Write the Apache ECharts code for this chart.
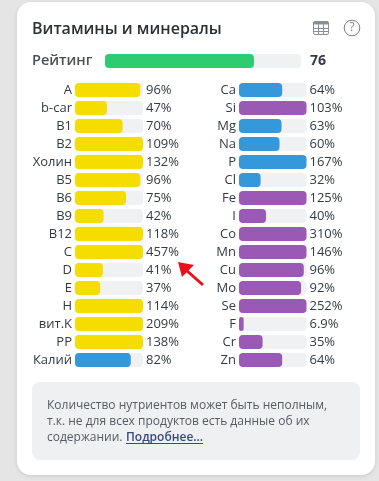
<!DOCTYPE html>
<html>
<head>
<meta charset="utf-8">
<style>
  html, body { margin: 0; padding: 0; background: #e5e5e5; }
  #chart { width: 379px; height: 481px; }
</style>
<script src="https://cdn.jsdelivr.net/npm/echarts@6/dist/echarts.min.js"></script>
</head>
<body>
<div id="chart"></div>
<script>
// данные
var ratingName = 'Рейтинг';
var ratingValue = 76;

var leftNames = ['A', 'b-car', 'B1', 'B2', 'Холин', 'B5', 'B6', 'B9', 'B12', 'C', 'D', 'E', 'H', 'вит.K', 'PP', 'Калий'];
var leftValues = [96, 47, 70, 109, 132, 96, 75, 42, 118, 457, 41, 37, 114, 209, 138, 82];

var rightNames = ['Ca', 'Si', 'Mg', 'Na', 'P', 'Cl', 'Fe', 'I', 'Co', 'Mn', 'Cu', 'Mo', 'Se', 'F', 'Cr', 'Zn'];
var rightValues = [64, 103, 63, 60, 167, 32, 125, 40, 310, 146, 96, 92, 252, 6.9, 35, 64];

var macroNames = ['Калий', 'Ca', 'Mg', 'Na', 'P', 'Cl'];
var vitaminNames = leftNames.filter(function (n) { return macroNames.indexOf(n) < 0; });

var FONT = '"Open Sans", "Noto Sans", sans-serif';
var TRACK = '#eff1f3';
var TEXT = '#333a42';

function barColor(name) {
  if (macroNames.indexOf(name) >= 0) return '#3498db';
  if (vitaminNames.indexOf(name) >= 0) return '#f5dd00';
  return '#9b59b6';
}

function percent(v) {
  return v + '%';
}

var grids = [];
var xAxes = [];
var yAxes = [];
var series = [];

// одна группа полос: своя сетка, подписи слева и значения справа
function addPanel(box, names, values, tags, labelStyle, tagStyle, colorOf) {
  var i = grids.length;
  var baseLabel = { interval: 0, fontFamily: FONT, fontSize: 13, color: TEXT, margin: 3, padding: [2, 0, 0, 0] };
  grids.push(box);
  xAxes.push({ gridIndex: i, type: 'value', min: 0, max: 100, show: false });
  yAxes.push({
    gridIndex: i, type: 'category', inverse: true, position: 'left', data: names,
    axisLine: { show: false }, axisTick: { show: false },
    axisLabel: Object.assign({}, baseLabel, labelStyle)
  });
  yAxes.push({
    gridIndex: i, type: 'category', inverse: true, position: 'right', data: tags,
    axisLine: { show: false }, axisTick: { show: false },
    axisLabel: Object.assign({}, baseLabel, tagStyle)
  });
  series.push({
    type: 'bar',
    xAxisIndex: i,
    yAxisIndex: yAxes.length - 2,
    barWidth: 14,
    silent: true,
    showBackground: true,
    backgroundStyle: { color: TRACK, borderRadius: 4 },
    itemStyle: { borderRadius: 4 },
    data: values.map(function (v, k) {
      return { value: Math.min(v, 100), itemStyle: { color: colorOf(names[k]) } };
    })
  });
}

addPanel({ left: 105, top: 54, width: 196, height: 14 }, [ratingName], [ratingValue], [String(ratingValue)],
  { fontSize: 14.5, fontWeight: 600, color: '#4a5058', align: 'left', margin: 73 },
  { fontSize: 14, fontWeight: 700, margin: 9 },
  function () { return '#2ecc71'; });
addPanel({ left: 75, top: 81, width: 68, height: 288 }, leftNames, leftValues, leftValues.map(percent), {}, {}, barColor);
addPanel({ left: 239, top: 81, width: 67.5, height: 288 }, rightNames, rightValues, rightValues.map(percent), {}, {}, barColor);

var noteStyle = { fontFamily: FONT, fontSize: 12, fill: '#555b63' };

function noteLine(x, y, text, extra) {
  return { type: 'text', x: x, y: y, style: Object.assign({ text: text, textVerticalAlign: 'middle' }, noteStyle, extra) };
}

var iconLine = { stroke: '#8a8f96', lineWidth: 1 };

var graphicEls = [
  // карточка
  {
    type: 'rect', z: -10,
    shape: { x: 17, y: 2, width: 358, height: 473, r: 14 },
    style: { fill: '#fff', shadowBlur: 4, shadowColor: 'rgba(0,0,0,0.12)', shadowOffsetY: 1 }
  },
  { type: 'text', x: 32, y: 29, style: { text: 'Витамины и минералы', fontFamily: FONT, fontSize: 16, fontWeight: 600, fill: '#2b2f36', textVerticalAlign: 'middle' } },
  // значок таблицы
  { type: 'rect', shape: { x: 313.5, y: 21.5, width: 15, height: 13, r: 1.5 }, style: { fill: 'none', stroke: '#8a8f96', lineWidth: 1 } },
  { type: 'rect', shape: { x: 313.5, y: 21.5, width: 15, height: 3, r: 1 }, style: { fill: '#8a8f96' } },
  { type: 'line', shape: { x1: 313.5, y1: 28.5, x2: 328.5, y2: 28.5 }, style: iconLine },
  { type: 'line', shape: { x1: 313.5, y1: 31.5, x2: 328.5, y2: 31.5 }, style: iconLine },
  { type: 'line', shape: { x1: 318.5, y1: 24.5, x2: 318.5, y2: 34.5 }, style: iconLine },
  { type: 'line', shape: { x1: 323.5, y1: 24.5, x2: 323.5, y2: 34.5 }, style: iconLine },
  // значок справки
  { type: 'circle', shape: { cx: 352, cy: 28, r: 7.8 }, style: { fill: 'none', stroke: '#7b8087', lineWidth: 1 } },
  { type: 'text', x: 352, y: 28, style: { text: '?', fontFamily: FONT, fontSize: 12, fill: '#7b8087', textAlign: 'center', textVerticalAlign: 'middle' } },
  // стрелка
  { type: 'line', shape: { x1: 203, y1: 285, x2: 186, y2: 270 }, style: { stroke: '#e8101a', lineWidth: 3 } },
  { type: 'polygon', shape: { points: [[178, 262], [194, 265], [182, 277]] }, style: { fill: '#e8101a' } },
  // примечание
  { type: 'rect', z: -5, shape: { x: 32, y: 382, width: 328, height: 78, r: 8 }, style: { fill: '#eff0f2' } },
  noteLine(47, 405.5, 'Количество нутриентов может быть неполным,'),
  noteLine(47, 421.5, 'т.к. не для всех продуктов есть данные об их'),
  noteLine(47, 437.5, 'содержании.'),
  noteLine(126, 437.5, 'Подробнее...', { fill: '#3a4a80', fontWeight: 600 }),
  { type: 'line', shape: { x1: 126, y1: 443.5, x2: 203, y2: 443.5 }, style: { stroke: '#3a4a80', lineWidth: 1 } }
];

var chart = echarts.init(document.getElementById('chart'));
chart.setOption({
  animation: false,
  backgroundColor: '#e5e5e5',
  grid: grids,
  xAxis: xAxes,
  yAxis: yAxes,
  series: series,
  graphic: { elements: graphicEls }
});
</script>
</body>
</html>
